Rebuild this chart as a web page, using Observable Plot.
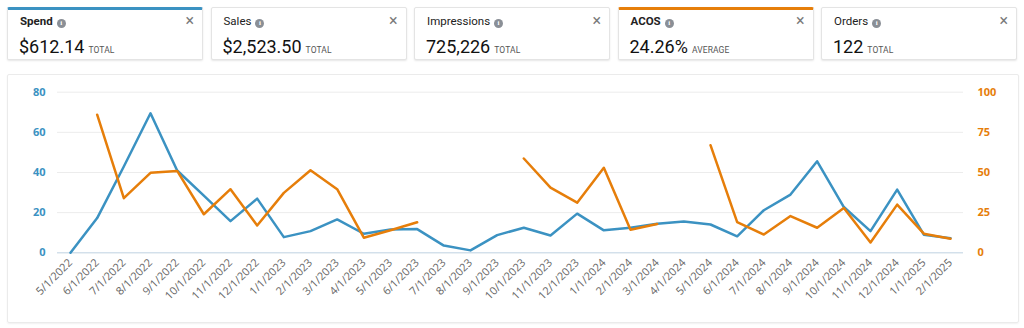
<!DOCTYPE html>
<html><head><meta charset="utf-8">
<script src="https://cdn.jsdelivr.net/npm/d3@7"></script>
<script src="https://cdn.jsdelivr.net/npm/@observablehq/plot@0.6"></script>
<style>
body{margin:0;background:#fff;font-family:Roboto,"Open Sans",sans-serif;width:1024px;height:328px;overflow:hidden;position:relative}
.card{position:absolute;top:7px;width:196px;height:53px;border:1px solid #e4e4e4;box-shadow:0 1px 2px rgba(0,0,0,.10);border-radius:2px;background:#fff;box-sizing:border-box}
.card .t{position:absolute;left:12px;top:6px;font-size:11.5px;color:#222;line-height:14px}
.card .t b{font-weight:700}
.card .i{display:inline-block;width:9px;height:9px;border-radius:50%;background:#8a8f96;color:#fff;font-size:7px;line-height:9px;text-align:center;font-weight:700;margin-left:4px;vertical-align:0px;font-family:serif}
.card .x{position:absolute;right:8px;top:5px;font-size:16px;color:#7a7a7a;line-height:16px}
.card .v{position:absolute;left:11px;top:28px;font-size:18px;color:#111;line-height:22px;white-space:nowrap}
.card .v small{font-size:8.5px;color:#555;margin-left:4px;letter-spacing:0.1px}
#panel{position:absolute;left:7px;top:74px;width:1012px;height:249px;border:1px solid #ebebeb;box-shadow:0 1px 2px rgba(0,0,0,.06);box-sizing:border-box;border-radius:2px}
#chart{position:absolute;left:7px;top:73px}
</style>
</head><body>
<div id="cards"></div>
<div id="panel"></div>
<div id="chart"></div>
<script>
const months = ["5/1/2022","6/1/2022","7/1/2022","8/1/2022","9/1/2022","10/1/2022","11/1/2022","12/1/2022",
"1/1/2023","2/1/2023","3/1/2023","4/1/2023","5/1/2023","6/1/2023","7/1/2023","8/1/2023","9/1/2023","10/1/2023","11/1/2023","12/1/2023",
"1/1/2024","2/1/2024","3/1/2024","4/1/2024","5/1/2024","6/1/2024","7/1/2024","8/1/2024","9/1/2024","10/1/2024","11/1/2024","12/1/2024",
"1/1/2025","2/1/2025"];
const spend = [0,17.3,43,69.5,41,28.5,15.8,27,7.8,10.8,16.6,9.5,11.6,11.8,3.6,1.2,8.8,12.5,8.6,19.5,11.2,12.5,14.5,15.6,14.1,8.2,21.2,29,45.6,22.8,10.8,31.5,9,7.3];
const acos = [null,86,34,49.8,51,24,39.6,17,37.3,51.4,39.6,9.4,14,19,null,null,null,58.7,40.6,31.2,52.9,14.4,17.9,null,67,19.1,11.4,22.9,15.6,27.9,6.4,30,11.9,8.7];
const spendTicks = [0,20,40,60,80];
const acosTicks = [0,25,50,75,100];
const cardTitles = ["Spend","Sales","Impressions","ACOS","Orders"];
const cardValues = ["$612.14","$2,523.50","725,226","24.26%","122"];
const cardUnits = ["TOTAL","TOTAL","TOTAL","AVERAGE","TOTAL"];
const cardSelected = ["#3b92c2",null,null,"#e67e0a",null];

const BLUE = "#3b92c2", ORANGE = "#e67e0a";

const cards = document.getElementById("cards");
cardTitles.forEach((t,i)=>{
  const c = document.createElement("div");
  c.className = "card";
  c.style.left = (7 + i*203.5) + "px";
  if (cardSelected[i]) { c.style.borderTop = "3px solid " + cardSelected[i]; }
  const d = cardSelected[i] ? 2 : 0;
  const title = cardSelected[i] ? `<b>${t}</b>` : t;
  c.innerHTML = `<div class="t" style="top:${6-d}px">${title}<span class="i">i</span></div>
    <div class="x" style="top:${5-d}px">×</div>
    <div class="v" style="top:${28-d}px">${cardValues[i]}<small>${cardUnits[i]}</small></div>`;
  cards.appendChild(c);
});

const k = 80/100;
const data = months.map((m,i)=>({month:m, spend:spend[i], acos: acos[i]==null ? null : acos[i]*k}));

const chart = Plot.plot({
  width: 1012, height: 250,
  marginTop: 18.7, marginBottom: 70.7, marginLeft: 50, marginRight: 56,
  style: {fontFamily: "'Open Sans', sans-serif", background: "transparent"},
  x: {type: "point", domain: months, padding: 0, insetLeft: 13, insetRight: 13, round: false},
  y: {domain: [0, 80]},
  marks: [
    Plot.gridY(spendTicks, {stroke: "#ececec", strokeOpacity: 1}),
    Plot.ruleY([0], {stroke: "#c6d9e8"}),
    Plot.axisY(spendTicks, {anchor: "left", tickSize: 0, tickPadding: 12, color: BLUE, fontWeight: "bold", fontSize: 11, label: null}),
    Plot.axisY(acosTicks.map(v=>v*k), {anchor: "right", tickSize: 0, tickPadding: 14, color: ORANGE, fontWeight: "bold", fontSize: 11, label: null, tickFormat: d => String(Math.round(d/k))}),
    Plot.axisX({tickRotate: -45, tickSize: 0, tickPadding: 8, color: "#666", fontSize: 11, label: null}),
    Plot.lineY(data, {x: "month", y: "spend", stroke: BLUE, strokeWidth: 2.5}),
    Plot.lineY(data, {x: "month", y: "acos", stroke: ORANGE, strokeWidth: 2.5})
  ]
});
document.getElementById("chart").appendChild(chart);
</script>
</body></html>
